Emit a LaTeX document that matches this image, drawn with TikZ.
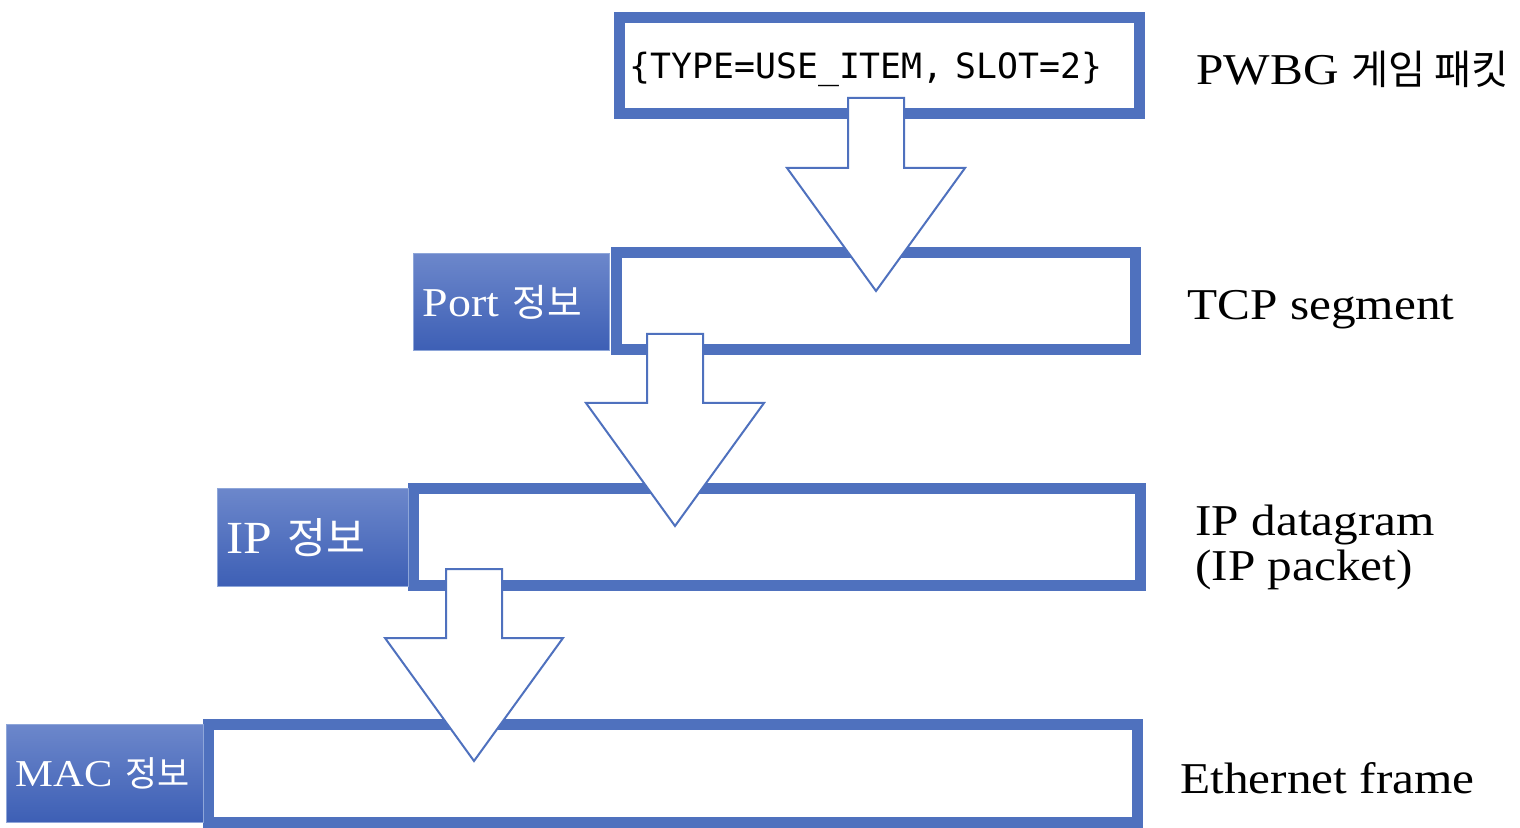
\documentclass[tikz,border=0pt]{standalone}
\usepackage{fontspec}
\setmainfont{Liberation Serif}[FakeStretch=1.12]
\newfontfamily\kr{Noto Sans CJK KR}[Scale=0.92]
\newfontfamily\pktmono{DejaVu Sans Mono}
\usetikzlibrary{calc}
\definecolor{FrameBlue}{HTML}{4F71BE}
\definecolor{HdrTop}{HTML}{6C87CB}
\definecolor{HdrBot}{HTML}{3D5FB5}
\definecolor{HdrLine}{HTML}{8EA6D9}
\tikzset{
  layerbox/.style={rectangle,draw=FrameBlue,line width=5.5pt,fill=white,inner sep=0pt},
  hdr/.style={rectangle,draw=HdrLine,line width=0.6pt,
              top color=HdrTop,bottom color=HdrBot,
              anchor=north west,inner xsep=4.5pt,inner ysep=0pt,
              align=left,text=white,font=\fontsize{20.5}{24}\selectfont},
  side/.style={inner sep=0pt,font=\fontsize{22}{22.5}\selectfont},
  blk/.style={draw=FrameBlue,line width=1pt,fill=white,line join=miter}
}
% block arrow from tail to tip
\newcommand{\pktarrow}[2]{%
  \draw[blk] let \p1=(#1),\p2=(#2) in
    (\x1-14pt,\y1) -- (\x1+14pt,\y1) -- (\x1+14pt,\y2+61.5pt)
    -- (\x2+44.5pt,\y2+61.5pt) -- (\p2) -- (\x2-44.5pt,\y2+61.5pt)
    -- (\x1-14pt,\y2+61.5pt) -- cycle;}

\begin{document}
\begin{tikzpicture}[x=0.5pt,y=-0.5pt]
  \useasboundingbox (0,0) rectangle (1520,828);

  % Layers
  \node[layerbox,minimum width=260pt,minimum height=48pt,inner xsep=5pt,
        text width=250pt,align=left,text depth=0pt,
        font=\pktmono\fontsize{17.4}{20}\selectfont] (pkt) at (879.5,65.5)
        {\{TYPE=USE\_ITEM, SLOT=2\}};
  \node[layerbox,minimum width=259.5pt,minimum height=48.5pt] (tcp) at (876,301) {};
  \node[layerbox,minimum width=363.5pt,minimum height=48.5pt] (ip) at (777,537) {};
  \node[layerbox,minimum width=464.5pt,minimum height=49pt] (eth) at (673,773.5) {};

  % Headers
  \node[hdr,text width=89pt,minimum height=48.5pt] (porthdr) at (413,253)
       {\mbox{Port {\kr 정보}}};
  \node[hdr,text width=86.5pt,minimum height=49pt,font=\fontsize{23}{26}\selectfont] (iphdr) at (217,488)
       {\mbox{IP {\kr 정보}}};
  \node[hdr,text width=89.5pt,minimum height=49pt,font=\fontsize{19}{22}\selectfont] (machdr) at (6,724)
       {\mbox{MAC {\kr 정보}}};

  % Layer names
  \node[side,anchor=base west] (pwbg) at (1196,85) {PWBG {\kr 게임 패킷}};
  \node[side,anchor=base west] (segname) at (1187,320) {TCP segment};
  \node[side,anchor=north west,align=left] (dgname) at (1195,505) {IP datagram\\(IP packet)};
  \node[side,anchor=base west] (ethname) at (1180,793) {Ethernet frame};

  % Encapsulation arrows
  \coordinate (a1s) at (876,98);  \coordinate (a1e) at (876,291);
  \coordinate (a2s) at (675,334); \coordinate (a2e) at (675,526);
  \coordinate (a3s) at (474,569); \coordinate (a3e) at (474,761);
  \pktarrow{a1s}{a1e}
  \pktarrow{a2s}{a2e}
  \pktarrow{a3s}{a3e}
\end{tikzpicture}
\end{document}
